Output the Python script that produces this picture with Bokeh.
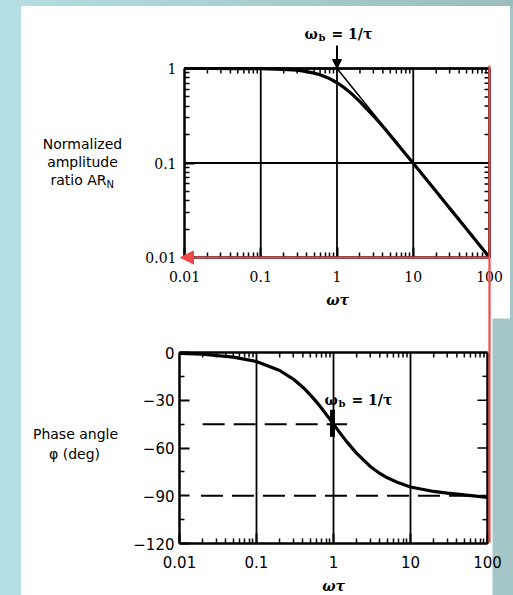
import math
from bokeh.plotting import figure
from bokeh.models import (FixedTicker, CustomJSTickFormatter, LogAxis, LinearAxis,
                          Label, Arrow, NormalHead, Spacer, Range1d, LogScale,
                          LinearScale, BoxAnnotation)
from bokeh.layouts import row, column
from bokeh.embed import file_html
from bokeh.resources import INLINE

# ---------------- data ----------------
omega = [0.01, 0.02, 0.05, 0.1, 0.2, 0.3, 0.4, 0.5, 0.6, 0.7, 0.8, 1.0, 1.2, 1.5,
         2.0, 3.0, 4.0, 5.0, 7.0, 10.0, 20.0, 30.0, 50.0, 100.0]
amplitude = [1.0, 1.0, 0.999, 0.995, 0.98, 0.958, 0.928, 0.894, 0.857, 0.819, 0.781,
             0.707, 0.64, 0.555, 0.447, 0.316, 0.243, 0.196, 0.141, 0.0995, 0.05,
             0.0333, 0.02, 0.01]
phase = [-0.6, -1.1, -2.9, -5.7, -11.3, -16.7, -21.8, -26.6, -31.0, -35.0, -38.7,
         -45.0, -50.2, -56.3, -63.4, -71.6, -76.0, -78.7, -81.9, -84.5, -87.3,
         -88.3, -89.5, -91.0]
asym_omega = [0.01, 1.0, 100.0]
asym_amp = [1.0, 1.0, 0.01]

break_freq = 1.0
dash45_x = [0.02, 1.5]
dash45_y = [-45.0, -45.0]
dash90_x = [0.019, 100.0]
dash90_y = [-90.0, -90.0]
mark_x = [0.97]
mark_y0 = [-36.0]
mark_y1 = [-53.0]

x_major = [0.01, 0.1, 1.0, 10.0, 100.0]
x_labels = ["0.01", "0.1", "1", "10", "100"]
x_minor = [k * 10.0 ** e for e in (-2, -1, 0, 1) for k in range(2, 10)]
amp_major = [0.01, 0.1, 1.0]
amp_labels = ["0.01", "0.1", "1"]
amp_minor = [k * 10.0 ** e for e in (-2, -1) for k in range(2, 10)]
phase_major = [0, -30, -60, -90, -120]
phase_labels = ["0", "\u221230", "\u221260", "\u221290", "\u2212120"]
phase_minor = [-15, -45, -75, -105]

RED = "#f04848"
LEFT_BLUE = "#b4dfe3"
RIGHT_GREY = "#a4c6c6"

JS = """
let best = -1;
for (let i = 0; i < tvals.length; i++) {
  if (Math.abs(tvals[i] - tick) <= 1e-9 * Math.max(1, Math.abs(tvals[i]))) best = i;
}
return best >= 0 ? tlabels[best] : '';
"""


def fmt(vals, labels):
    return CustomJSTickFormatter(args=dict(tvals=vals, tlabels=labels), code=JS)


# page-pixel helpers used only to place the two panels and their annotations
def f1x(px):
    return 10 ** (-2 + (px - 184) / 76.25)


def f1y(py):
    return 10 ** (-(py - 68) / 94.5)


def f2x(px):
    return 10 ** (-2 + (px - 179) / 77.0)


def f2y(py):
    return -(py - 352) * 120.0 / 191.0


# canvas covers page x 21..510, y 6..595
CX0, CX1, CY0, CY1 = 21, 510, 6, 595

p = figure(width=CX1 - CX0, height=CY1 - CY0, x_axis_type="log", y_axis_type="log",
           x_range=Range1d(f1x(CX0), f1x(CX1)), y_range=Range1d(f1y(CY1), f1y(CY0)),
           x_axis_location=None, y_axis_location=None, output_backend="svg",
           toolbar_location=None, min_border=0)
p.extra_x_ranges = {"x2": Range1d(f2x(CX0), f2x(CX1))}
p.extra_x_scales = {"x2": LogScale()}
p.extra_y_ranges = {"y2": Range1d(f2y(CY1), f2y(CY0))}
p.extra_y_scales = {"y2": LinearScale()}
p.title.visible = False
p.grid.visible = False
p.outline_line_color = None
p.background_fill_color = "white"
p.border_fill_color = "white"

P2 = dict(x_range_name="x2", y_range_name="y2")

# grey strip at lower right (page decoration)
p.add_layout(BoxAnnotation(left=f2x(492), right=f2x(600), top=f2y(318),
                           bottom=f2y(700), fill_color=RIGHT_GREY, fill_alpha=1.0,
                           line_color=None, level="underlay", **P2))


def style_axis(ax, font, size, standoff):
    ax.axis_line_color = "black"
    ax.axis_line_width = 2.5
    ax.major_tick_in = 10
    ax.major_tick_out = 0
    ax.minor_tick_in = 5
    ax.minor_tick_out = 0
    ax.major_tick_line_color = "black"
    ax.minor_tick_line_color = "black"
    ax.major_tick_line_width = 2
    ax.minor_tick_line_width = 1.5
    ax.major_label_text_font = font
    ax.major_label_text_font_size = size
    ax.major_label_text_color = "black"
    ax.major_label_standoff = standoff


def lbl(text, x, y, size="14px", font="DejaVu Sans", style="normal",
        align="center", baseline="middle", **kw):
    p.add_layout(Label(x=x, y=y, text=text, text_font=font, text_font_size=size,
                       text_font_style=style, text_align=align, text_baseline=baseline,
                       text_color="black", **kw))


def ticks_ray(xs, ys, length, angle, **kw):
    p.ray(x=xs, y=ys, length=length, length_units="screen", angle=angle,
          line_color="black", line_width=1.5, **kw)


# ---------------- panel 1: amplitude ratio (log-log) ----------------
xt1 = FixedTicker(ticks=x_major, minor_ticks=x_minor)
yt1 = FixedTicker(ticks=amp_major, minor_ticks=amp_minor)
ax_b1 = LogAxis(ticker=xt1, formatter=fmt(x_major, x_labels),
                fixed_location=amp_major[0], bounds=(x_major[0], x_major[-1]))
style_axis(ax_b1, "DejaVu Serif", "14px", 13)
p.add_layout(ax_b1, "below")
ax_l1 = LogAxis(ticker=yt1, formatter=fmt(amp_major, amp_labels),
                fixed_location=x_major[0], bounds=(amp_major[0], amp_major[-1]))
style_axis(ax_l1, "DejaVu Serif", "14px", 8)
p.add_layout(ax_l1, "left")

# grid lines and the top / right edges of the box
p.segment(x0=x_major[1:], y0=[amp_major[0]] * 4, x1=x_major[1:],
          y1=[amp_major[-1]] * 4, line_color="black", line_width=1.8)
p.segment(x0=[x_major[0]] * 2, y0=amp_major[1:], x1=[x_major[-1]] * 2,
          y1=amp_major[1:], line_color="black", line_width=1.8)
p.segment(x0=[x_major[0]], y0=[amp_major[-1]], x1=[x_major[-1]], y1=[amp_major[-1]],
          line_color="black", line_width=2.5)
p.segment(x0=[x_major[-1]], y0=[amp_major[0]], x1=[x_major[-1]], y1=[amp_major[-1]],
          line_color="black", line_width=2.5)
ticks_ray(x_minor, [amp_major[-1]] * len(x_minor), 5, -math.pi / 2)
ticks_ray([x_major[-1]] * len(amp_minor), amp_minor, 5, math.pi)

p.line(asym_omega, asym_amp, line_color="black", line_width=1.5)
p.line(omega, amplitude, line_color="black", line_width=3.2)

lbl("Normalized", f1x(82), f1y(143))
lbl("amplitude", f1x(82), f1y(161))
lbl("ratio AR", f1x(106), f1y(179), align="right")
lbl("N", f1x(106), f1y(184), size="10px", align="left")
lbl("ωτ", f1x(337), f1y(299), size="14px", font="DejaVu Serif", style="bold italic")

lbl("ω", f1x(304), f1y(33), size="14px", font="DejaVu Serif", style="bold",
    align="left")
lbl("b", f1x(318), f1y(37), size="10px", font="DejaVu Serif", style="bold",
    align="left")
lbl("= 1/τ", f1x(331), f1y(33), size="14px", font="DejaVu Serif", style="bold",
    align="left")
p.add_layout(Arrow(end=NormalHead(size=9, fill_color="black", line_color="black"),
                   x_start=break_freq, y_start=f1y(45), x_end=break_freq,
                   y_end=amp_major[-1], line_color="black", line_width=2))

# ---------------- panel 2: phase angle (log-linear) ----------------
xt2 = FixedTicker(ticks=x_major, minor_ticks=x_minor)
yt2 = FixedTicker(ticks=phase_major, minor_ticks=phase_minor)
ax_b2 = LogAxis(ticker=xt2, formatter=fmt(x_major, x_labels),
                fixed_location=phase_major[-1], bounds=(x_major[0], x_major[-1]), **P2)
style_axis(ax_b2, "DejaVu Sans", "15px", 12)
p.add_layout(ax_b2, "below")
ax_l2 = LinearAxis(ticker=yt2, formatter=fmt(phase_major, phase_labels),
                   fixed_location=x_major[0], bounds=(phase_major[-1], phase_major[0]),
                   **P2)
style_axis(ax_l2, "DejaVu Sans", "15px", 5)
p.add_layout(ax_l2, "left")

p.segment(x0=x_major[1:-1], y0=[phase_major[-1]] * 3, x1=x_major[1:-1],
          y1=[phase_major[0]] * 3, line_color="black", line_width=1.8, **P2)
p.segment(x0=[x_major[0]], y0=[phase_major[0]], x1=[x_major[-1]], y1=[phase_major[0]],
          line_color="black", line_width=2.5, **P2)
p.segment(x0=[x_major[-1]], y0=[phase_major[-1]], x1=[x_major[-1]],
          y1=[phase_major[0]], line_color="black", line_width=2.5, **P2)
ticks_ray(x_minor, [phase_major[0]] * len(x_minor), 5, -math.pi / 2, **P2)
ticks_ray([x_major[-1]] * len(phase_minor), phase_minor, 5, math.pi, **P2)
ticks_ray([x_major[-1]] * 3, phase_major[1:-1], 10, math.pi, **P2)

p.line(dash45_x, dash45_y, line_color="black", line_width=2, line_dash="22 9", **P2)
p.line(dash90_x, dash90_y, line_color="black", line_width=2, line_dash="22 9", **P2)
p.line(omega, phase, line_color="black", line_width=3.2, **P2)
p.segment(x0=mark_x, y0=mark_y0, x1=mark_x, y1=mark_y1, line_color="black",
          line_width=5, **P2)

lbl("Phase angle", f2x(75), f2y(433), **P2)
lbl("φ (deg)", f2x(74), f2y(453), **P2)
lbl("ω", f2x(324), f2y(399), size="14px", font="DejaVu Serif", style="bold",
    align="left", **P2)
lbl("b", f2x(338), f2y(403), size="10px", font="DejaVu Serif", style="bold",
    align="left", **P2)
lbl("= 1/τ", f2x(351), f2y(399), size="14px", font="DejaVu Serif", style="bold",
    align="left", **P2)
lbl("ωτ", f2x(333), f2y(585), size="14px", font="DejaVu Serif", style="bold italic",
    **P2)

# ---------------- red annotations ----------------
p.add_layout(Arrow(end=NormalHead(size=13, fill_color=RED, line_color=RED),
                   x_start=x_major[-1], y_start=amp_major[0], x_end=f1x(180),
                   y_end=amp_major[0], line_color=RED, line_width=2.2))
p.add_layout(Arrow(end=None, x_start=x_major[-1], y_start=f1y(65), x_end=x_major[-1],
                   y_end=f1y(542), line_color=RED, line_width=2.2))

# ---------------- page layout ----------------
top_strip = Spacer(width=513, height=6, styles={
    "background": "linear-gradient(to right, #b4dfe3, #9bbcbc)"})
left_strip = Spacer(width=21, height=589, styles={"background-color": LEFT_BLUE})
right_strip = Spacer(width=3, height=589, styles={"background-color": RIGHT_GREY})
layout = column(top_strip, row(left_strip, p, right_strip))

open("out.html", "w").write(file_html(layout, INLINE))
